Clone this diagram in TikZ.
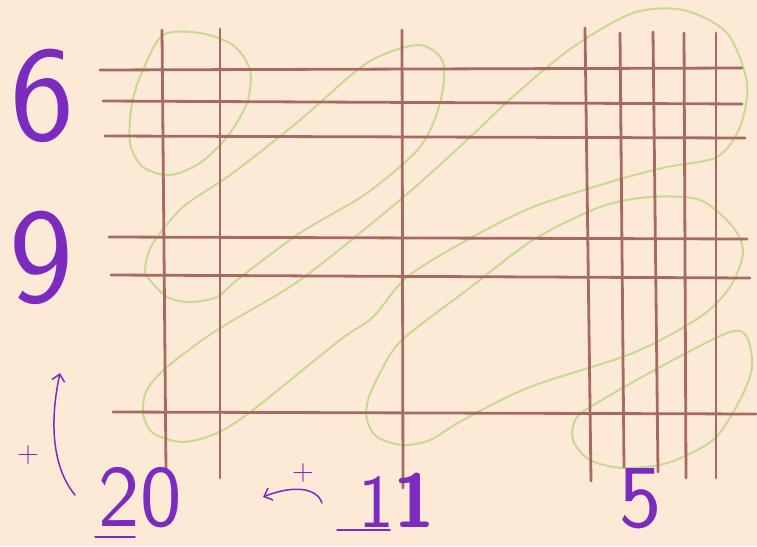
\documentclass[tikz,border=0pt]{standalone}
\usepackage{tikz}
\usetikzlibrary{arrows.meta}
\definecolor{paper}{HTML}{FDEAD6}
\definecolor{gridbrown}{HTML}{A56B60}
\definecolor{loopgreen}{HTML}{C5DA93}
\definecolor{inkpurple}{HTML}{7B2CBF}
\tikzset{
  % rutnät
  gl/.style={draw=gridbrown,line width=2.8pt,line cap=round},
  lp/.style={draw=loopgreen,line width=2pt},
  % siffror
  num/.style={text=inkpurple,inner sep=0pt,font=\sffamily\fontsize{#1}{#1}\selectfont},
  pen/.style={draw=inkpurple,line width=1.5pt,line cap=round},
  tip/.style={-{Straight Barb[length=7pt,width=13pt]}},
}
\begin{document}
\begin{tikzpicture}[x=1pt,y=-1pt]
\useasboundingbox (0,0) rectangle (757,546);
  \fill[paper] (0,0) rectangle (757,546);
  % grupper
  \draw[lp] plot[smooth cycle] coordinates {(163,35) (200,33) (233,45) (250,70) (247,103)
    (227,137) (200,163) (170,175) (143,167) (130,143) (132,103) (143,70)};
  \draw[lp] plot[smooth cycle] coordinates {(418,45) (367,63) (300,120) (233,173) (183,207)
    (152,245) (145,270) (150,280) (167,297) (190,302) (217,297) (237,280) (300,233)
    (367,193) (420,147) (440,103) (443,62)};
  \draw[lp] plot[smooth cycle] coordinates {(143,413) (147,390) (167,367) (217,330) (300,280)
    (400,200) (467,140) (517,93) (573,47) (633,13) (683,10) (727,33) (747,83) (740,127)
    (717,157) (667,167) (617,180) (533,207) (467,240) (407,277) (373,317) (340,340)
    (253,410) (217,433) (183,442) (153,433)};
  \draw[lp] plot[smooth cycle] coordinates {(367,420) (368,400) (380,373) (402,340) (467,290)
    (533,240) (600,207) (650,197) (700,200) (733,227) (743,253) (730,287) (700,317)
    (633,353) (530,387) (463,420) (430,440) (403,445) (377,437)};
  \draw[lp] plot[smooth cycle] coordinates {(730,332) (747,337) (752,367) (740,400) (713,440)
    (667,463) (623,468) (590,460) (573,440) (577,417) (607,397) (673,360)};
  % rader
  \draw[gl] (100,70) -- (742,68);
  \draw[gl] (103,101) -- (742,104);
  \draw[gl] (105,136) -- (745,138);
  \draw[gl] (109,237) -- (747,239);
  \draw[gl] (111,275) -- (750,278);
  \draw[gl] (113,412) -- (756,414);
  % kolumner
  \draw[gl] (162,30) -- (166,470);
  \draw[gl] (220,29) -- (220,478);
  \draw[gl] (402,30) -- (403,488);
  \draw[gl] (585,28) -- (591,481);
  \draw[gl] (620,33) -- (624,467);
  \draw[gl] (653,32) -- (658,472);
  \draw[gl] (684,33) -- (686,478);
  \draw[gl] (716,33) -- (716,478);
  % siffror
  \node[num=136] (six) at (42,96) {6};
  \node[num=136] (nine) at (41,258) {9};
  \node[num=88] (twenty) at (140,498) {20};
  \node[num=76] (eleven) at (397,500) {1{\bfseries 1}};
  \node[num=90] (five) at (641,499) {5};
  \draw[pen] (95,537) -- (135,537);
  \draw[pen] (337,530) -- (390,530);
  % pilar
  \node[num=30] (plusL) at (28,455) {+};
  \coordinate (upA) at (75,495);
  \coordinate (upB) at (60,373);
  \draw[pen,tip] (upA) .. controls (48,462) and (52,410) .. (upB);
  \node[num=30] (plusB) at (303,473) {+};
  \coordinate (lfA) at (322,503);
  \coordinate (lfB) at (263,497);
  \draw[pen,tip] (lfA) .. controls (316,486) and (290,486) .. (lfB);
\end{tikzpicture}
\end{document}
